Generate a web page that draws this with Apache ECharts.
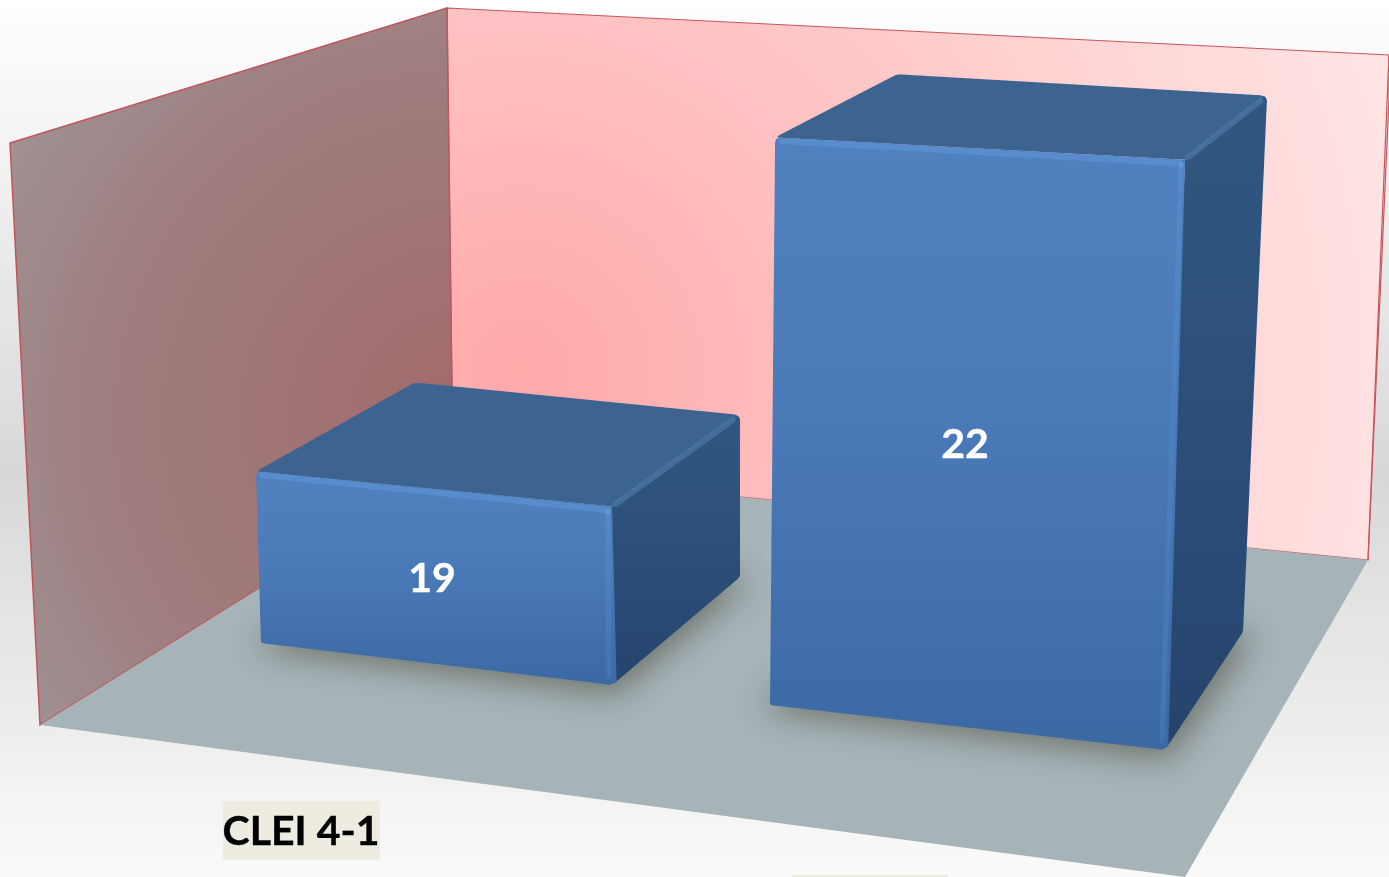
<!DOCTYPE html>
<html>
<head>
<meta charset="utf-8">
<style>html,body{margin:0;padding:0;background:#fff;overflow:hidden}#c{width:1389px;height:877px}</style>
<script src="https://cdn.jsdelivr.net/npm/echarts@6/dist/echarts.min.js"></script>
</head>
<body>
<div id="c"></div>
<script>
// --- data ---
var categories = ['CLEI 4-1', ''];
var values = [19, 22];

// --- scene layout (perspective footprint, not data) ---
var axisMin = 17.7, pxPerUnit = 132;
var footprints = [
  { fl: [-39, -234], fr: [312, -192], br: [440, -300], bl: [117, -335], lean: { fl: -0.029, fr: 0, br: 0, bl: -0.012 },
    valueAt: [132, -298], catAt: [1, -46] },
  { fl: [-98, -172], fr: [297, -127], br: [375, -245], bl: [17, -275], lean: { fl: 0.009, fr: 0.034, br: 0.045, bl: 0.023 },
    valueAt: [97, -432], catAt: [0, 0] }
];
var heightScale = { fl: 1.0, fr: 1.04, br: 0.945, bl: 0.93 };
var shadowShift = 3000;

function vgrad(stops) {
  return { type: 'linear', x: 0, y: 0, x2: 0, y2: 1,
    colorStops: stops.map(function (s) { return { offset: s[0], color: s[1] }; }) };
}
function toward(a, b, n) {
  var d = Math.hypot(b[0] - a[0], b[1] - a[1]);
  return [a[0] + (b[0] - a[0]) * n / d, a[1] + (b[1] - a[1]) * n / d];
}
// replaces a polygon vertex with a short curve so the block's corners look moulded
function rounded(prev, c, next, r) {
  var a = toward(c, prev, r), b = toward(c, next, r), out = [];
  for (var t = 0; t <= 1.001; t += 0.2) {
    var u = 1 - t;
    out.push([u * u * a[0] + 2 * u * t * c[0] + t * t * b[0], u * u * a[1] + 2 * u * t * c[1] + t * t * b[1]]);
  }
  return out;
}

function renderBar(params, api) {
  var i = api.value(0), v = api.value(1);
  var base = api.coord([i, axisMin]);
  var top = api.coord([i, v]);
  var h = base[1] - top[1];
  var f = footprints[i];
  function low(k) { return [base[0] + f[k][0], base[1] + f[k][1]]; }
  function high(k) {
    var hh = h * heightScale[k];
    return [base[0] + f[k][0] + f.lean[k] * hh, base[1] + f[k][1] - hh];
  }
  var fl = low('fl'), fr = low('fr'), br = low('br'), bl = low('bl');
  var tfl = high('fl'), tfr = high('fr'), tbr = high('br'), tbl = high('bl');
  function poly(points, fill, extra) {
    var st = { fill: fill, lineJoin: 'round' };
    for (var key in extra) st[key] = extra[key];
    return { type: 'polygon', shape: { points: points }, style: st };
  }
  function line(a, b, color, width) {
    return { type: 'line', shape: { x1: a[0], y1: a[1], x2: b[0], y2: b[1] },
      style: { stroke: color, lineWidth: width, lineCap: 'round' } };
  }
  // the footprint is drawn off the page so only its blurred shadow lands on the floor
  var shadowPts = [[fl[0] - 8, fl[1] + 4], [fr[0] + 4, fr[1] + 8], [br[0] + 10, br[1] + 2], [bl[0], bl[1]]]
    .map(function (p) { return [p[0] - shadowShift, p[1]]; });
  var roundTbr = rounded(tbl, tbr, br, 7);
  var roundBr = rounded(tbr, br, fr, 3);
  var roundFr = rounded(br, fr, fl, 6);
  var roundFl = rounded(fr, fl, tfl, 2);
  var roundTfl = rounded(fl, tfl, tfr, 6);
  var topTfl = rounded(tfr, tfl, tbl, 5);
  var roundTbl = rounded(tfl, tbl, tbr, 5);
  var children = [
    poly(shadowPts, '#000', { shadowBlur: 34, shadowColor: 'rgba(74,74,60,0.64)', shadowOffsetX: shadowShift, shadowOffsetY: 0 }),
    poly([].concat(topTfl, roundTbl, roundTbr, [tfr]), '#3d6390', {}),
    poly([].concat([tfr], roundTbr.slice(2), roundBr, roundFr), vgrad([[0, '#315781'], [0.55, '#2b4e78'], [1, '#25446d']]), {}),
    poly([].concat(roundFl, roundTfl, [tfr], roundFr), vgrad([[0, '#5081bf'], [0.45, '#4b7ab8'], [1, '#3a69a4']]), {}),
    // rounded bevels
    line(toward(tfr, tbr, 4), toward(tbr, tfr, 9), 'rgba(75,118,165,0.75)', 6),
    line([tfl[0] + 6, tfl[1] + 3.5], [tfr[0] - 5, tfr[1] + 3.5], 'rgba(90,142,208,0.8)', 6),
    line([tfr[0] - 4, tfr[1] + 7], [fr[0] - 3, fr[1] - 9], vgrad([[0, '#5689c9'], [1, '#4274b2']]), 5),
    { type: 'circle', shape: { cx: tfr[0] - 4, cy: tfr[1] + 5, r: 2.6 }, style: { fill: '#6299d8' } },
    { type: 'text', style: { text: String(v), x: base[0] + f.valueAt[0], y: base[1] + f.valueAt[1],
        fill: '#fff', stroke: '#fff', lineWidth: 0.4, font: 'bold 41px Lato', align: 'center', verticalAlign: 'middle' } }
  ];
  var name = categories[i];
  if (name) {
    children.push({ type: 'rect', shape: { x: base[0] - 77, y: base[1] + f.catAt[1] - 30, width: 157, height: 59 },
      style: { fill: '#eeece1' } });
    children.push({ type: 'text', style: { text: name, x: base[0] + f.catAt[0], y: base[1] + f.catAt[1] + 1,
      fill: '#000', stroke: '#000', lineWidth: 0.4, font: 'bold 41px Lato', align: 'center', verticalAlign: 'middle' } });
  } else {
    // top edge of the next category's label plate, cut off by the page
    children.push({ type: 'rect', shape: { x: base[0] - 76, y: 875, width: 156, height: 2 },
      style: { fill: '#eeece1' } });
  }
  return { type: 'group', children: children };
}

var chart = echarts.init(document.getElementById('c'), null, { renderer: 'canvas' });
chart.setOption({
  animation: false,
  backgroundColor: { type: 'linear', x: 0, y: 0, x2: 0, y2: 1, colorStops: [
    { offset: 0, color: '#ffffff' }, { offset: 0.54, color: '#d8d8d8' }, { offset: 1, color: '#fafafa' }] },
  grid: { left: 16, width: 1136, top: 0, height: 877 },
  xAxis: { type: 'category', data: categories, show: false },
  yAxis: { type: 'value', min: axisMin, max: axisMin + 877 / pxPerUnit, show: false },
  graphic: [
    { type: 'polygon', z: 1, shape: { points: [[447, 8], [1389, 55], [1389, 100], [1368, 560], [453, 468]] },
      style: { fill: { type: 'radial', x: 520, y: 370, r: 900, global: true, colorStops: [
        { offset: 0, color: '#ffa9a9' }, { offset: 0.4, color: '#ffc2c2' }, { offset: 1, color: '#ffe4e4' }] },
        stroke: '#c8555c', lineWidth: 1.2 } },
    { type: 'polygon', z: 2, shape: { points: [[10, 143], [447, 8], [453, 468], [40, 725]] },
      style: { fill: { type: 'radial', x: 465, y: 420, r: 540, global: true, colorStops: [
        { offset: 0, color: '#a2696b' }, { offset: 0.7, color: '#9f7f80' }, { offset: 1, color: '#a09395' }] },
        stroke: '#c0555b', lineWidth: 1.5 } },
    { type: 'polygon', z: 3, shape: { points: [[40, 725], [453, 468], [1368, 560], [1185, 877]] },
      style: { fill: '#a6b3b7' } },
    { type: 'line', z: 3, shape: { x1: 1389, y1: 55, x2: 1368, y2: 560 }, style: { stroke: '#c8555c', lineWidth: 1.2 } }
  ],
  series: [{
    type: 'custom',
    z: 10,
    clip: false,
    encode: { x: 0, y: 1 },
    data: values.map(function (v, i) { return [i, v]; }),
    renderItem: renderBar
  }]
});
</script>
</body>
</html>
